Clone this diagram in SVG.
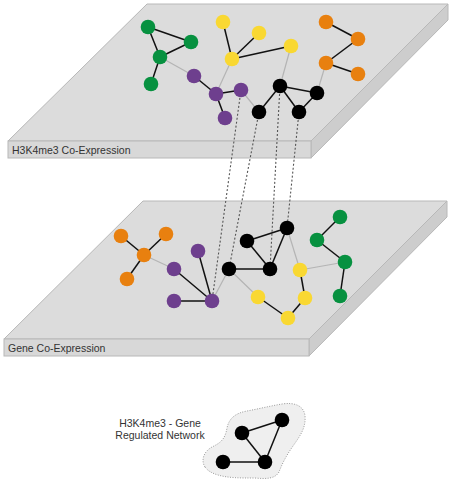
<svg xmlns="http://www.w3.org/2000/svg" width="454" height="483" viewBox="0 0 454 483">
<style>
.top{fill:#dcdcdc;stroke:#b8b8b8;stroke-width:1}
.side{fill:#cdcdcd;stroke:#b8b8b8;stroke-width:1}
.front{fill:#d8d8d8;stroke:#b8b8b8;stroke-width:1}
.lbl{font-family:"Liberation Sans",Arial,sans-serif;font-size:10.5px;fill:#333}
.e{stroke:#111;stroke-width:1.5;fill:none}
.g{stroke:#b4b4b4;stroke-width:1.2;fill:none}
.d{stroke:#555;stroke-width:1.1;stroke-dasharray:2 2;fill:none}
.gr{fill:#079140}.ye{fill:#f9d832}.or{fill:#e8800f}.pu{fill:#6e3f8e}.bk{fill:#000}
</style>
<rect width="454" height="483" fill="#fff"/>
<g id="plate-top">
<polygon class="top" points="147,4 448,4 311,141 8,141"/>
<polygon class="side" points="448,4 448,20 311,158 311,141"/>
<rect class="front" x="8" y="141" width="303" height="17"/>
<text class="lbl" x="12" y="154">H3K4me3 Co-Expression</text>
</g>
<g id="plate-bottom">
<polygon class="top" points="143,201 447,201 309,339 4,339"/>
<polygon class="side" points="447,201 447,217 309,356 309,339"/>
<rect class="front" x="4" y="339" width="305" height="17"/>
<text class="lbl" x="8" y="352">Gene Co-Expression</text>
</g>
<g id="legend">
<path d="M205,467 C201,461 203,452 212,447 C220,443 225,440 227,428 C229,418 236,413 247,411 C258,409 270,406 282,404 C295,402 304,406 305,416 C306,428 300,436 293,446 C286,456 282,464 279,472 C275,479 266,479 255,478 C240,478 228,478 218,475 C211,473 207,470 205,467 Z" fill="#efefef" stroke="#999" stroke-width="1" stroke-dasharray="1 1.5"/>
<text class="lbl" text-anchor="middle" x="160" y="427">H3K4me3 - Gene</text>
<text class="lbl" text-anchor="middle" x="160" y="439">Regulated Network</text>
</g>
<g id="connectors">
<line class="d" x1="241" y1="90" x2="212" y2="301"/>
<line class="d" x1="259" y1="112" x2="229" y2="269"/>
<line class="d" x1="280" y1="86" x2="270" y2="269"/>
<line class="d" x1="299" y1="112" x2="287" y2="228"/>
<!-- top edges -->
<line class="g" x1="160" y1="57" x2="194" y2="76"/>
<line class="g" x1="232" y1="59" x2="216" y2="94"/>
<line class="g" x1="241" y1="90" x2="259" y2="112"/>
<line class="g" x1="291" y1="46" x2="280" y2="86"/>
<line class="g" x1="326" y1="63" x2="317" y2="93"/>
<line class="e" x1="148" y1="27" x2="191" y2="42"/>
<line class="e" x1="148" y1="27" x2="160" y2="57"/>
<line class="e" x1="160" y1="57" x2="191" y2="42"/>
<line class="e" x1="160" y1="57" x2="151" y2="84"/>
<line class="e" x1="223" y1="22" x2="232" y2="59"/>
<line class="e" x1="259" y1="33" x2="232" y2="59"/>
<line class="e" x1="291" y1="46" x2="232" y2="59"/>
<line class="e" x1="194" y1="76" x2="216" y2="94"/>
<line class="e" x1="216" y1="94" x2="241" y2="90"/>
<line class="e" x1="216" y1="94" x2="225" y2="118"/>
<line class="e" x1="280" y1="86" x2="317" y2="93"/>
<line class="e" x1="280" y1="86" x2="259" y2="112"/>
<line class="e" x1="280" y1="86" x2="299" y2="112"/>
<line class="e" x1="317" y1="93" x2="299" y2="112"/>
<line class="e" x1="326" y1="22" x2="358" y2="39"/>
<line class="e" x1="358" y1="39" x2="326" y2="63"/>
<line class="e" x1="326" y1="63" x2="358" y2="74"/>
<!-- bottom edges -->
<line class="g" x1="144" y1="255" x2="174" y2="269"/>
<line class="g" x1="212" y1="301" x2="229" y2="269"/>
<line class="g" x1="229" y1="269" x2="258" y2="297"/>
<line class="g" x1="287" y1="228" x2="300" y2="270"/>
<line class="g" x1="300" y1="270" x2="345" y2="262"/>
<line class="e" x1="121" y1="236" x2="144" y2="255"/>
<line class="e" x1="166" y1="234" x2="144" y2="255"/>
<line class="e" x1="144" y1="255" x2="127" y2="279"/>
<line class="e" x1="174" y1="269" x2="212" y2="301"/>
<line class="e" x1="198" y1="251" x2="212" y2="301"/>
<line class="e" x1="174" y1="301" x2="212" y2="301"/>
<line class="e" x1="229" y1="269" x2="270" y2="269"/>
<line class="e" x1="247" y1="241" x2="287" y2="228"/>
<line class="e" x1="247" y1="241" x2="270" y2="269"/>
<line class="e" x1="287" y1="228" x2="270" y2="269"/>
<line class="e" x1="258" y1="297" x2="288" y2="318"/>
<line class="e" x1="288" y1="318" x2="305" y2="298"/>
<line class="e" x1="305" y1="298" x2="300" y2="270"/>
<line class="e" x1="340" y1="217" x2="317" y2="240"/>
<line class="e" x1="317" y1="240" x2="345" y2="262"/>
<line class="e" x1="345" y1="262" x2="340" y2="296"/>
<!-- legend edges -->
<line class="e" x1="242" y1="433" x2="282" y2="420"/>
<line class="e" x1="242" y1="433" x2="265" y2="462"/>
<line class="e" x1="282" y1="420" x2="265" y2="462"/>
<line class="e" x1="223" y1="462" x2="265" y2="462"/>
</g>
<g id="nodes-top">
<circle class="gr" cx="148" cy="27" r="7.3"/>
<circle class="gr" cx="191" cy="42" r="7.3"/>
<circle class="gr" cx="160" cy="57" r="7.3"/>
<circle class="gr" cx="151" cy="84" r="7.3"/>
<circle class="ye" cx="223" cy="22" r="7.3"/>
<circle class="ye" cx="259" cy="33" r="7.3"/>
<circle class="ye" cx="291" cy="46" r="7.3"/>
<circle class="ye" cx="232" cy="59" r="7.3"/>
<circle class="pu" cx="194" cy="76" r="7.3"/>
<circle class="pu" cx="216" cy="94" r="7.3"/>
<circle class="pu" cx="241" cy="90" r="7.3"/>
<circle class="pu" cx="225" cy="118" r="7.3"/>
<circle class="bk" cx="280" cy="86" r="7.3"/>
<circle class="bk" cx="317" cy="93" r="7.3"/>
<circle class="bk" cx="259" cy="112" r="7.3"/>
<circle class="bk" cx="299" cy="112" r="7.3"/>
<circle class="or" cx="326" cy="22" r="7.3"/>
<circle class="or" cx="358" cy="39" r="7.3"/>
<circle class="or" cx="326" cy="63" r="7.3"/>
<circle class="or" cx="358" cy="74" r="7.3"/>
</g>
<g id="nodes-bottom">
<circle class="or" cx="121" cy="236" r="7.3"/>
<circle class="or" cx="166" cy="234" r="7.3"/>
<circle class="or" cx="144" cy="255" r="7.3"/>
<circle class="or" cx="127" cy="279" r="7.3"/>
<circle class="pu" cx="174" cy="269" r="7.3"/>
<circle class="pu" cx="198" cy="251" r="7.3"/>
<circle class="pu" cx="174" cy="301" r="7.3"/>
<circle class="pu" cx="212" cy="301" r="7.3"/>
<circle class="bk" cx="229" cy="269" r="7.3"/>
<circle class="bk" cx="247" cy="241" r="7.3"/>
<circle class="bk" cx="287" cy="228" r="7.3"/>
<circle class="bk" cx="270" cy="269" r="7.3"/>
<circle class="ye" cx="258" cy="297" r="7.3"/>
<circle class="ye" cx="300" cy="270" r="7.3"/>
<circle class="ye" cx="305" cy="298" r="7.3"/>
<circle class="ye" cx="288" cy="318" r="7.3"/>
<circle class="gr" cx="340" cy="217" r="7.3"/>
<circle class="gr" cx="317" cy="240" r="7.3"/>
<circle class="gr" cx="345" cy="262" r="7.3"/>
<circle class="gr" cx="340" cy="296" r="7.3"/>
</g>
<g id="nodes-legend">
<circle class="bk" cx="242" cy="433" r="7.3"/>
<circle class="bk" cx="282" cy="420" r="7.3"/>
<circle class="bk" cx="265" cy="462" r="7.3"/>
<circle class="bk" cx="223" cy="462" r="7.3"/>
</g>
</svg>
